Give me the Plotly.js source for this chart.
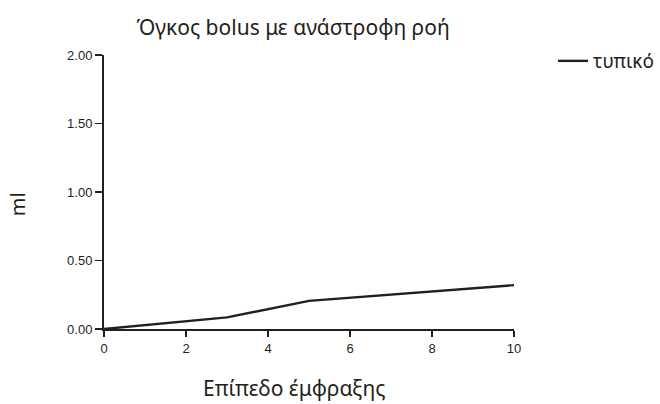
<!DOCTYPE html>
<html>
<head>
<meta charset="utf-8">
<script src="https://cdn.plot.ly/plotly-3.0.1.min.js"></script>
<style>html,body{margin:0;padding:0;background:#fff;}#chart{width:660px;height:404px;}</style>
</head>
<body>
<div id="chart"></div>
<script>
const chartTitle = "Όγκος bolus με ανάστροφη ροή";
const xTitle = "Επίπεδο έμφραξης";
const yTitle = "ml";
const seriesName = "τυπικό";
const occlusionLevel = [0, 3, 5, 10];
const volumeMl = [0, 0.085, 0.205, 0.32];
const xTickVals = [0, 2, 4, 6, 8, 10];
const yTickVals = [0, 0.5, 1, 1.5, 2];
const yTickText = ["0.00", "0.50", "1.00", "1.50", "2.00"];

const ink = "#231f20";
const titleFont = "Noto Sans, Open Sans, sans-serif";
const tickFont = {family: "Liberation Sans, Arial, sans-serif", size: 13, color: ink};

const trace = {
  x: occlusionLevel, y: volumeMl, type: "scatter", mode: "lines",
  name: seriesName, line: {color: ink, width: 2.4}, cliponaxis: false
};

const layout = {
  width: 660, height: 404,
  margin: {l: 104, r: 146, t: 55, b: 75, autoexpand: false},
  paper_bgcolor: "#fff", plot_bgcolor: "#fff",
  title: {text: chartTitle, font: {family: titleFont, size: 21, color: ink},
          xref: "container", x: 0.444, xanchor: "center", yref: "container", y: 0.931, yanchor: "middle"},
  xaxis: {range: [0, 10], tickvals: xTickVals, ticks: "outside", ticklen: 6, tickwidth: 1.5, tickcolor: ink,
          showline: true, linecolor: ink, linewidth: 2, showgrid: false, zeroline: false, tickfont: tickFont, fixedrange: true},
  yaxis: {range: [0, 2], tickvals: yTickVals, ticktext: yTickText, ticks: "outside", ticklen: 7, tickwidth: 1.5, tickcolor: ink,
          showline: true, linecolor: ink, linewidth: 2, showgrid: false, zeroline: false, tickfont: tickFont, fixedrange: true},
  showlegend: true,
  legend: {xref: "container", yref: "container", x: 0.838, xanchor: "left", y: 0.896, yanchor: "top", itemwidth: 30,
           font: {family: titleFont, size: 19, color: ink}, bgcolor: "rgba(0,0,0,0)"},
  annotations: [
    {text: xTitle, xref: "paper", yref: "paper", x: 0.463, y: -0.215, xanchor: "center", yanchor: "middle",
     showarrow: false, font: {family: titleFont, size: 21, color: ink}},
    {text: yTitle, xref: "paper", yref: "paper", x: -0.212, y: 0.456, xanchor: "center", yanchor: "middle",
     textangle: -90, showarrow: false, font: {family: titleFont, size: 20, color: ink}}
  ]
};

Plotly.newPlot("chart", [trace], layout, {displayModeBar: false, staticPlot: true});
</script>
</body>
</html>
